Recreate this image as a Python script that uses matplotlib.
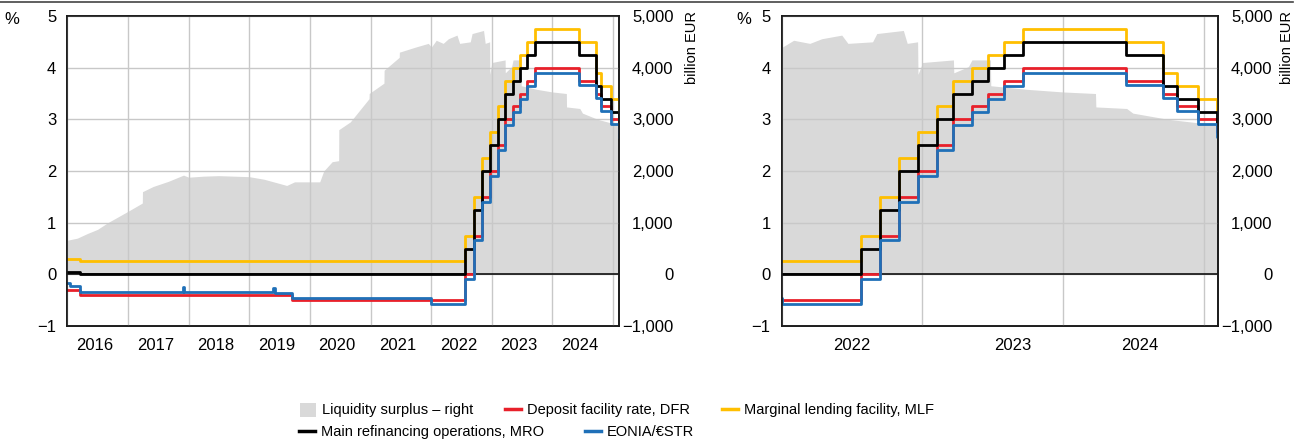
import pandas as pd
import matplotlib
matplotlib.use('Agg')
import matplotlib.pyplot as plt
import matplotlib.dates as mdates
from matplotlib.lines import Line2D
from matplotlib.patches import Patch
from matplotlib.ticker import FuncFormatter, NullFormatter, MultipleLocator

plt.rcParams['font.family'] = ['Liberation Sans', 'DejaVu Sans']

# key ECB rates, % (step changes)
mro_dates = ['2016-01-01', '2016-03-16', '2022-07-27', '2022-09-14', '2022-11-02', '2022-12-21',
             '2023-02-08', '2023-03-22', '2023-05-10', '2023-06-21', '2023-08-02', '2023-09-20',
             '2024-06-12', '2024-09-18', '2024-10-23', '2024-12-18', '2025-02-05', '2025-02-08']
mro = [0.05, 0.00, 0.50, 1.25, 2.00, 2.50, 3.00, 3.50, 3.75, 4.00, 4.25, 4.50,
       4.25, 3.65, 3.40, 3.15, 2.90, 2.90]
mlf = [0.30, 0.25, 0.75, 1.50, 2.25, 2.75, 3.25, 3.75, 4.00, 4.25, 4.50, 4.75,
       4.50, 3.90, 3.65, 3.40, 3.15, 3.15]

dfr_dates = ['2016-01-01', '2016-03-16', '2019-09-18', '2022-07-27', '2022-09-14', '2022-11-02',
             '2022-12-21', '2023-02-08', '2023-03-22', '2023-05-10', '2023-06-21', '2023-08-02',
             '2023-09-20', '2024-06-12', '2024-09-18', '2024-10-23', '2024-12-18', '2025-02-05',
             '2025-02-08']
dfr = [-0.30, -0.40, -0.50, 0.00, 0.75, 1.50, 2.00, 2.50, 3.00, 3.25, 3.50, 3.75,
       4.00, 3.75, 3.50, 3.25, 3.00, 2.75, 2.75]

# EONIA until end-2021, ESTR afterwards
eon_dates = ['2016-01-01', '2016-01-20', '2016-03-16', '2017-11-27', '2017-12-04', '2019-05-27',
             '2019-06-03', '2019-09-18', '2022-01-03', '2022-07-27', '2022-09-14', '2022-11-02',
             '2022-12-21', '2023-02-08', '2023-03-22', '2023-05-10', '2023-06-21', '2023-08-02',
             '2023-09-20', '2024-06-12', '2024-09-18', '2024-10-23', '2024-12-18', '2025-02-05',
             '2025-02-08']
eon = [-0.16, -0.23, -0.34, -0.25, -0.35, -0.26, -0.36, -0.46, -0.58, -0.09, 0.66, 1.40,
       1.90, 2.40, 2.90, 3.15, 3.40, 3.65, 3.90, 3.66, 3.41, 3.16, 2.91, 2.66, 2.66]

# liquidity surplus, EUR billion
liq_dates = ['2016-01-01', '2016-03-01', '2016-05-01', '2016-07-01', '2016-09-01', '2016-11-01',
             '2017-01-01', '2017-03-28', '2017-03-29', '2017-06-01', '2017-09-01', '2017-12-01',
             '2018-01-01', '2018-04-01', '2018-07-01', '2018-10-01', '2019-01-01', '2019-04-01',
             '2019-07-01', '2019-08-15', '2019-10-01', '2020-01-01', '2020-03-01', '2020-03-25',
             '2020-05-15', '2020-06-23', '2020-06-24', '2020-09-01', '2020-12-23', '2020-12-24',
             '2021-03-23', '2021-03-24', '2021-06-23', '2021-06-24', '2021-10-01', '2021-12-15',
             '2022-01-03', '2022-02-01', '2022-03-15', '2022-04-15', '2022-06-06', '2022-06-22',
             '2022-08-25', '2022-09-05', '2022-11-13', '2022-11-23', '2022-12-20', '2022-12-21',
             '2023-01-02', '2023-03-23', '2023-03-24', '2023-05-01', '2023-05-10', '2023-06-27',
             '2023-06-28', '2023-10-01', '2024-01-01', '2024-03-26', '2024-03-27', '2024-06-15',
             '2024-07-01', '2024-10-01', '2025-01-01', '2025-02-08']
liq = [660, 700, 790, 870, 1000, 1110,
       1220, 1380, 1600, 1700, 1800, 1920,
       1880, 1900, 1910, 1900, 1890, 1840,
       1760, 1720, 1790, 1790, 1790, 2000,
       2180, 2200, 2800, 2950, 3400, 3500,
       3700, 3950, 4200, 4300, 4400, 4470,
       4400, 4530, 4470, 4560, 4630, 4470,
       4500, 4660, 4720, 4470, 4500, 3870,
       4100, 4150, 3900, 4020, 4150, 4150,
       3650, 3580, 3530, 3500, 3240, 3210,
       3120, 3000, 2920, 2890]

left_labels = ['2016', '2017', '2018', '2019', '2020', '2021', '2022', '2023', '2024']
left_label_pos = ['2016-06-14', '2017-06-14', '2018-06-14', '2019-06-14', '2020-06-14',
                  '2021-06-14', '2022-06-14', '2023-06-14', '2024-06-14']
right_labels = ['2022', '2023', '2024']
right_label_pos = ['2022-07-01', '2023-08-25', '2024-07-20']

c_liq = '#d9d9d9'
c_dfr = '#e8202a'
c_mlf = '#ffbf00'
c_mro = '#000000'
c_eon = '#1f70b8'

D = pd.to_datetime

fig = plt.figure(figsize=(13.06, 4.43), dpi=100)


def thousands(v, pos):
    return f'{v:,.0f}'.replace('-', '\u2212')


def panel(rect, start, end, lab_pos, labs):
    ax = fig.add_axes(rect)
    ax2 = ax.twinx()
    ax.set_zorder(ax2.get_zorder() + 1)
    ax.patch.set_visible(False)

    ax2.fill_between(D(liq_dates), liq, 0, color=c_liq, lw=0)
    ax2.set_ylim(-1000, 5000)
    ax2.yaxis.set_major_locator(MultipleLocator(1000))
    ax2.yaxis.set_major_formatter(FuncFormatter(thousands))
    ax2.tick_params(axis='y', length=0, labelsize=12, pad=39)
    for t in ax2.get_yticklabels():
        t.set_horizontalalignment('right')

    ax.plot(D(mro_dates), mlf, drawstyle='steps-post', color=c_mlf, lw=2)
    ax.plot(D(dfr_dates), dfr, drawstyle='steps-post', color=c_dfr, lw=2)
    ax.plot(D(mro_dates), mro, drawstyle='steps-post', color=c_mro, lw=2)
    ax.plot(D(eon_dates), eon, drawstyle='steps-post', color=c_eon, lw=2)
    ax.axhline(0, color='black', lw=1.1, zorder=1.5)

    ax.set_ylim(-1, 5)
    ax.set_xlim(D(start), D(end))
    ax.yaxis.set_major_locator(MultipleLocator(1))
    ax.xaxis.set_major_locator(mdates.YearLocator())
    ax.xaxis.set_major_formatter(NullFormatter())
    ax.set_xticks(D(lab_pos), minor=True)
    ax.set_xticklabels(labs, minor=True)
    ax.tick_params(axis='both', which='both', length=0, labelsize=12)
    ax.tick_params(axis='y', pad=8)
    ax.tick_params(axis='x', which='minor', pad=9)
    ax.set_axisbelow(True)
    ax.grid(True, which='major', color='#c8c8c8', lw=1)
    for a in (ax, ax2):
        for s in a.spines.values():
            s.set_color('#1a1a1a')
            s.set_linewidth(1.2)
    return ax


panel([67.3 / 1306, 1 - 326 / 443, 552 / 1306, 310 / 443], '2016-01-01', '2025-02-08',
      left_label_pos, left_labels)
panel([781.7 / 1306, 1 - 326 / 443, 436.6 / 1306, 310 / 443], '2022-01-01', '2025-02-08',
      right_label_pos, right_labels)

fig.text(12 / 1306, 1 - 19 / 443, '%', ha='center', va='center', fontsize=12)
fig.text(744 / 1306, 1 - 19 / 443, '%', ha='center', va='center', fontsize=12)
fig.text(692 / 1306, 1 - 11 / 443, 'billion EUR', rotation=90, ha='center', va='top', fontsize=10.5)
fig.text(1287 / 1306, 1 - 11 / 443, 'billion EUR', rotation=90, ha='center', va='top', fontsize=10.5)

fig.add_artist(Line2D([0, 1293 / 1306], [1 - 1.5 / 443, 1 - 1.5 / 443], color='#444444', lw=1.2))

h_liq = Patch(facecolor=c_liq, edgecolor='none')
h_dfr = Line2D([], [], color=c_dfr, lw=2.5)
h_mlf = Line2D([], [], color=c_mlf, lw=2.5)
h_mro = Line2D([], [], color=c_mro, lw=2.5)
h_eon = Line2D([], [], color=c_eon, lw=2.5)

leg_kw = dict(frameon=False, fontsize=10.5, handlelength=1.1, handleheight=1.1,
              handletextpad=0.4, borderpad=0, borderaxespad=0, loc='center left')
fig.legend([h_liq, h_dfr, h_mlf],
           ['Liquidity surplus \u2013 right', 'Deposit facility rate, DFR', 'Marginal lending facility, MLF'],
           ncol=3, columnspacing=2.2, bbox_to_anchor=(300 / 1306, 1 - 410 / 443), **leg_kw)
fig.legend([h_mro, h_eon],
           ['Main refinancing operations, MRO', 'EONIA/\u20acSTR'],
           ncol=2, columnspacing=2.8, bbox_to_anchor=(299 / 1306, 1 - 432 / 443), **leg_kw)

fig.savefig('out.png', dpi=100)
